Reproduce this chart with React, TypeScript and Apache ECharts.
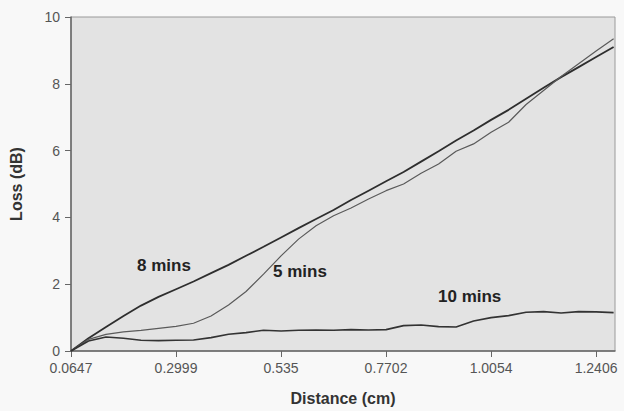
import React, { useEffect, useRef } from "react";
import * as echarts from "echarts";

// Distance (cm) sample positions: 0.0647 + k * 0.0392
const distance: number[] = Array.from({ length: 32 }, (_, k) => +(0.0647 + k * 0.0392).toFixed(4));

const loss8: number[] = [
  0, 0.38, 0.72, 1.05, 1.36, 1.62, 1.85, 2.08, 2.33, 2.58, 2.85, 3.12, 3.4, 3.68, 3.95, 4.22,
  4.52, 4.8, 5.08, 5.36, 5.67, 5.98, 6.3, 6.6, 6.92, 7.22, 7.55, 7.88, 8.2, 8.5, 8.8, 9.1,
];
const loss5: number[] = [
  0, 0.35, 0.5, 0.57, 0.62, 0.68, 0.74, 0.83, 1.05, 1.38, 1.78, 2.3, 2.85, 3.35, 3.75, 4.05,
  4.28, 4.55, 4.8, 5.0, 5.32, 5.6, 5.98, 6.2, 6.55, 6.85, 7.38, 7.8, 8.22, 8.6, 8.98, 9.35,
];
const loss10: number[] = [
  0, 0.3, 0.42, 0.38, 0.32, 0.31, 0.32, 0.33, 0.4, 0.5, 0.55, 0.62, 0.6, 0.62, 0.63, 0.62,
  0.64, 0.63, 0.64, 0.76, 0.78, 0.73, 0.72, 0.9, 1.0, 1.06, 1.16, 1.18, 1.14, 1.18, 1.17, 1.15,
];

const xTickLabels: number[] = [0.0647, 0.2999, 0.535, 0.7702, 1.0054, 1.2406];
const seriesNames: string[] = ["8 mins", "5 mins", "10 mins"];

const FONT = "'Liberation Sans', Arial, sans-serif";

export default function App() {
  const ref = useRef<HTMLDivElement>(null);
  useEffect(() => {
    if (!ref.current) return;
    const chart = echarts.init(ref.current, undefined, { renderer: "svg" });
    const pair = (ys: number[]) => distance.map((x, i) => [x, ys[i]]);
    chart.setOption({
      animation: false,
      backgroundColor: "#f8f8f8",
      grid: {
        left: 71,
        right: 9,
        top: 17,
        bottom: 59,
        show: true,
        backgroundColor: "#e3e3e3",
        borderColor: "#9a9a9a",
        borderWidth: 1,
      },
      xAxis: {
        type: "value",
        min: 0.0647,
        max: 1.283,
        name: "Distance (cm)",
        nameLocation: "middle",
        nameGap: 39,
        nameTextStyle: { fontFamily: FONT, fontWeight: "bold", fontSize: 16, color: "#333" },
        axisLine: { show: true, lineStyle: { color: "#666", width: 1.5 } },
        axisTick: { show: true, length: 6, customValues: xTickLabels, lineStyle: { color: "#666" } },
        axisLabel: {
          customValues: xTickLabels,
          fontFamily: FONT,
          fontSize: 14,
          color: "#555",
          margin: 10,
        },
        splitLine: { show: false },
      },
      yAxis: {
        type: "value",
        min: 0,
        max: 10,
        interval: 2,
        name: "Loss (dB)",
        nameLocation: "middle",
        nameGap: 47,
        nameTextStyle: { fontFamily: FONT, fontWeight: "bold", fontSize: 16, color: "#333" },
        axisLine: { show: true, lineStyle: { color: "#666", width: 1.5 } },
        axisTick: { show: true, length: 6, lineStyle: { color: "#666" } },
        axisLabel: { fontFamily: FONT, fontSize: 14, color: "#555", margin: 11 },
        splitLine: { show: false },
      },
      series: [
        {
          name: seriesNames[0],
          type: "line",
          data: pair(loss8),
          showSymbol: false,
          lineStyle: { color: "#2e2e2e", width: 1.8 },
        },
        {
          name: seriesNames[1],
          type: "line",
          data: pair(loss5),
          showSymbol: false,
          lineStyle: { color: "#5a5a5a", width: 1.2 },
        },
        {
          name: seriesNames[2],
          type: "line",
          data: pair(loss10),
          showSymbol: false,
          lineStyle: { color: "#333333", width: 1.6 },
        },
      ],
      graphic: [
        {
          type: "text",
          left: 137,
          top: 257,
          style: { text: seriesNames[0], fontFamily: FONT, fontWeight: "bold", fontSize: 17, fill: "#222" },
        },
        {
          type: "text",
          left: 273,
          top: 263,
          style: { text: seriesNames[1], fontFamily: FONT, fontWeight: "bold", fontSize: 17, fill: "#222" },
        },
        {
          type: "text",
          left: 438,
          top: 288,
          style: { text: seriesNames[2], fontFamily: FONT, fontWeight: "bold", fontSize: 17, fill: "#222" },
        },
      ],
    });
    return () => chart.dispose();
  }, []);
  return <div ref={ref} style={{ width: 624, height: 411, position: "absolute", left: 0, top: 0 }} />;
}
